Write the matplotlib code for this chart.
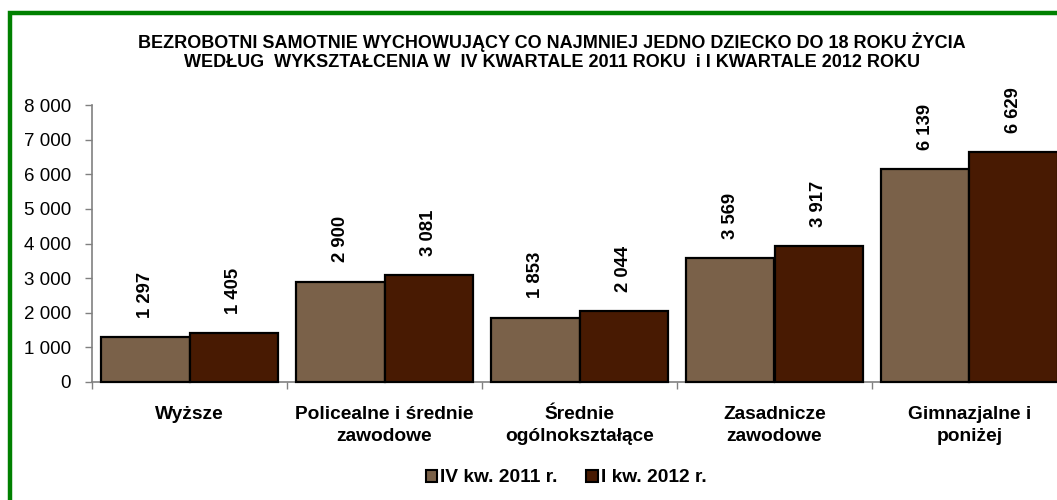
import matplotlib.pyplot as plt
from matplotlib.patches import Rectangle, Patch
import numpy as np

plt.rcParams['font.family'] = ['Liberation Sans', 'DejaVu Sans']

# dane z wykresu
kategorie = ['Wyższe', 'Policealne i średnie\nzawodowe', 'Średnie\nogólnokształące',
             'Zasadnicze\nzawodowe', 'Gimnazjalne i\nponiżej']
kw4_2011 = [1297, 2900, 1853, 3569, 6139]
kw1_2012 = [1405, 3081, 2044, 3917, 6629]
seria = ['IV kw. 2011 r.', 'I kw. 2012 r.']
kolory = ['#7A6149', '#481A02']
yticks = [0, 1000, 2000, 3000, 4000, 5000, 6000, 7000, 8000]

W, H = 1057, 500
fig = plt.figure(figsize=(W / 100, H / 100), dpi=100)
ax = fig.add_axes([92 / W, (H - 382) / H, 975 / W, 277 / H])

x = np.arange(len(kategorie))
bw = 0.456
for k, vals in enumerate([kw4_2011, kw1_2012]):
    off = (k - 0.5) * bw
    bars = ax.bar(x + off, vals, bw, color=kolory[k], edgecolor='black', linewidth=1.6,
                  zorder=3, clip_on=False)
    for b, v in zip(bars, vals):
        s = f'{v:,}'.replace(',', ' ')
        ax.annotate(s, (b.get_x() + b.get_width() / 2, v), xytext=(0, 14),
                    textcoords='offset points', rotation=90, ha='center', va='bottom',
                    fontsize=13.3, fontweight='bold', annotation_clip=False)

ax.set_xlim(-0.5, len(kategorie) - 0.5)
ax.set_ylim(0, 8000)
ax.set_yticks(yticks)
ax.set_yticklabels([f'{t:,}'.replace(',', ' ') for t in yticks], fontsize=13.5)
ax.set_xticks(x)
ax.set_xticklabels(kategorie, fontsize=13.8, fontweight='bold', linespacing=1.45)
ax.set_xticks(np.arange(-0.5, len(kategorie)), minor=True)
ax.tick_params(axis='x', which='major', length=0, pad=17)
ax.tick_params(axis='x', which='minor', length=5, color='#808080', width=1)
ax.tick_params(axis='y', length=5, color='#808080', width=1, pad=10)
for s in ['top', 'right']:
    ax.spines[s].set_visible(False)
for s in ['left', 'bottom']:
    ax.spines[s].set_color('#808080')
    ax.spines[s].set_linewidth(1.2)

fig.text(552 / W, 1 - 51.5 / H,
         'BEZROBOTNI SAMOTNIE WYCHOWUJĄCY CO NAJMNIEJ JEDNO DZIECKO DO 18 ROKU ŻYCIA\n'
         'WEDŁUG  WYKSZTAŁCENIA W  IV KWARTALE 2011 ROKU  i I KWARTALE 2012 ROKU',
         ha='center', va='center', fontsize=13, fontweight='bold', linespacing=1.2)

handles = [Patch(facecolor=kolory[i], edgecolor='black', linewidth=1.5) for i in range(2)]
fig.legend(handles, seria, loc='center', bbox_to_anchor=(566 / W, 22 / H), ncol=2,
           frameon=False, prop={'size': 13.8, 'weight': 'bold'}, handlelength=0.6,
           handleheight=0.6, handletextpad=0.15, columnspacing=1.5)

fig.patches.append(Rectangle((9.5 / W, -0.1), 1.2, 1 - 13 / H + 0.1, transform=fig.transFigure,
                             fill=False, edgecolor='#008000', linewidth=3.2))

fig.savefig('out.png', dpi=100)
